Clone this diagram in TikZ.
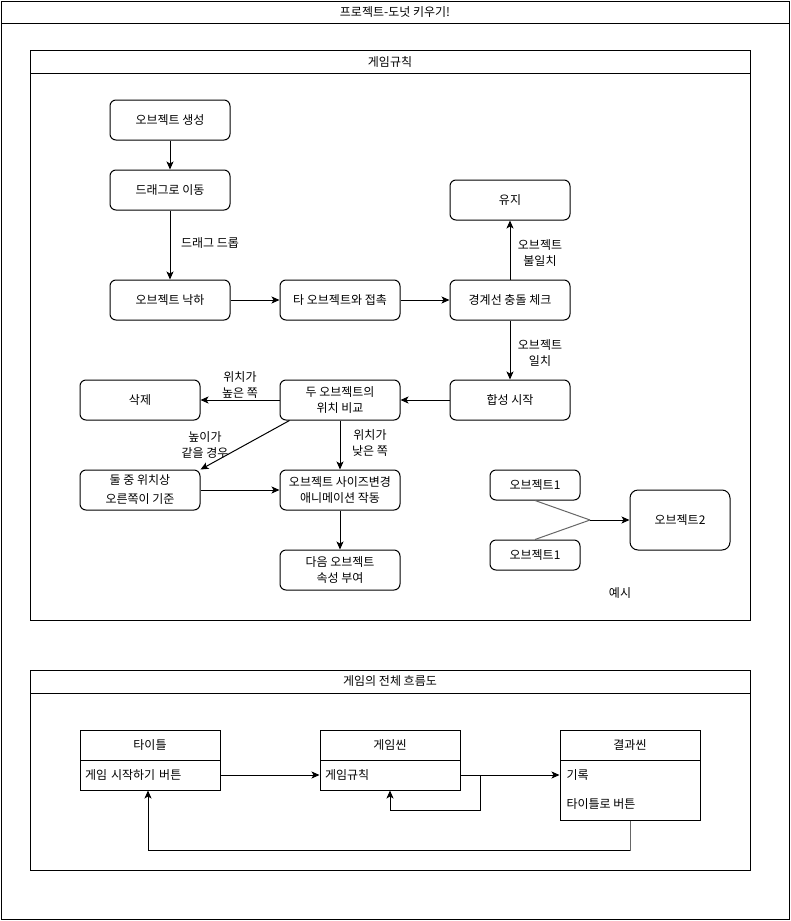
\documentclass[tikz,border=0pt]{standalone}
\usepackage{fontspec}
\setmainfont{Noto Sans CJK KR}
\usetikzlibrary{arrows.meta,calc}
\begin{document}
\begin{tikzpicture}[x=1pt,y=-1pt,line width=1pt,
  txt/.style={font=\fontsize{12}{16}\selectfont},
  box/.style={txt,draw,rounded corners=6pt,minimum width=120pt,minimum height=40pt,align=center,inner sep=1pt},
  sbox/.style={txt,draw,rounded corners=6pt,minimum width=90pt,minimum height=30pt,align=center,inner sep=1pt},
  lbl/.style={txt,align=center,inner sep=1pt},
  arr/.style={-{Stealth[length=8pt,width=7pt,inset=2pt]}},
  exline/.style={draw=black!60},
  chead/.style={txt,draw,minimum width=140pt,minimum height=30pt,inner sep=0pt},
  cbody/.style={txt,draw,minimum width=140pt,inner xsep=5pt,text width=130pt,align=left,inner ysep=0pt}]
\useasboundingbox (0,0) rectangle (791,921);
% outer frame
\draw (1,1) rectangle (789,919);
\draw (1,23) -- (789,23);
\node[txt] (title) at (395,12) {프로젝트-도넛 키우기!};
% pool 1
\draw (30,50) rectangle (750,620);
\draw (30,73) -- (750,73);
\node[txt] (p1) at (390,61.5) {게임규칙};
% nodes
\node[box] (gen) at (170,120) {오브젝트 생성};
\node[box] (drag) at (170,190) {드래그로 이동};
\node[box] (fall) at (170,300) {오브젝트 낙하};
\node[box] (touch) at (340,300) {타 오브젝트와 접촉};
\node[box] (check) at (510,300) {경계선 충돌 체크};
\node[box] (keep) at (510,200) {유지};
\node[box] (merge) at (510,400) {합성 시작};
\node[box] (cmp) at (340,400) {두 오브젝트의\\위치 비교};
\node[box] (del) at (140,400) {삭제};
\node[box,align=center] (right) at (140,490) {둘 중 위치상\\[3pt]오른쪽이 기준};
\node[box] (anim) at (340,490) {오브젝트 사이즈변경\\애니메이션 작동};
\node[box] (next) at (340,570) {다음 오브젝트\\속성 부여};
% edges
\draw[arr] (gen) -- (drag);
\draw[arr] (drag) -- (fall);
\node[lbl] (l1) at (210,243) {드래그 드롭};
\draw[arr] (fall) -- (touch);
\draw[arr] (touch) -- (check);
\draw[arr] (check) -- (keep);
\node[lbl] (l2) at (540,253) {오브젝트\\불일치};
\draw[arr] (check) -- (merge);
\node[lbl] (l3) at (540,353) {오브젝트\\일치};
\draw[arr] (merge) -- (cmp);
\draw[arr] (cmp) -- (del);
\node[lbl] (l4) at (240,385) {위치가\\높은 쪽};
\draw[arr] ($(cmp.south west)+(10,0)$) -- (right.north east);
\node[lbl] (l5) at (205,445) {높이가\\같을 경우};
\draw[arr] (cmp) -- (anim);
\node[lbl] (l6) at (370,443) {위치가\\낮은 쪽};
\draw[arr] (right) -- (anim);
\draw[arr] (anim) -- (next);
% example
\node[sbox] (e1) at (535,485) {오브젝트1};
\node[sbox] (e2) at (535,555) {오브젝트1};
\node[box,minimum width=100pt,minimum height=60pt,rounded corners=8pt] (e3) at (680,520) {오브젝트2};
\coordinate (m) at (590,520);
\draw[exline] (e1.south) -- (m);
\draw[exline] (e2.north) -- (m);
\draw[arr] (m) -- (e3);
\node[lbl] (ex) at (620,593) {예시};
% pool 2
\draw (30,670) rectangle (750,870);
\draw (30,693) -- (750,693);
\node[txt] (p2) at (390,681.5) {게임의 전체 흐름도};
% class boxes
\node[chead] (th) at (150,745) {타이틀};
\node[cbody,minimum height=30pt] (tb) at (150,775) {게임 시작하기 버튼};
\node[chead] (gh) at (390,745) {게임씬};
\node[cbody,minimum height=30pt] (gb) at (390,775) {게임규칙};
\node[chead] (rh) at (630,745) {결과씬};
\node[draw,minimum width=140pt,minimum height=60pt] (rb) at (630,790) {};
\node[txt,anchor=west,inner sep=0pt] (rk) at (566,775) {기록};
\node[txt,anchor=west,inner sep=0pt] (rt) at (566,804) {타이틀로 버튼};
\draw[arr] (tb.east) -- (gb.west);
\draw[arr] (gb.east) -- (rk -| rb.west);
\draw[arr] (gb.east) -- ++(20,0) -- ++(0,35) -| (gb.south);
\draw[exline] (rb.south) -- ++(0,30) coordinate (c1);
\draw[arr] (c1) -| ($(tb.south)+(-2,0)$);
\end{tikzpicture}
\end{document}
